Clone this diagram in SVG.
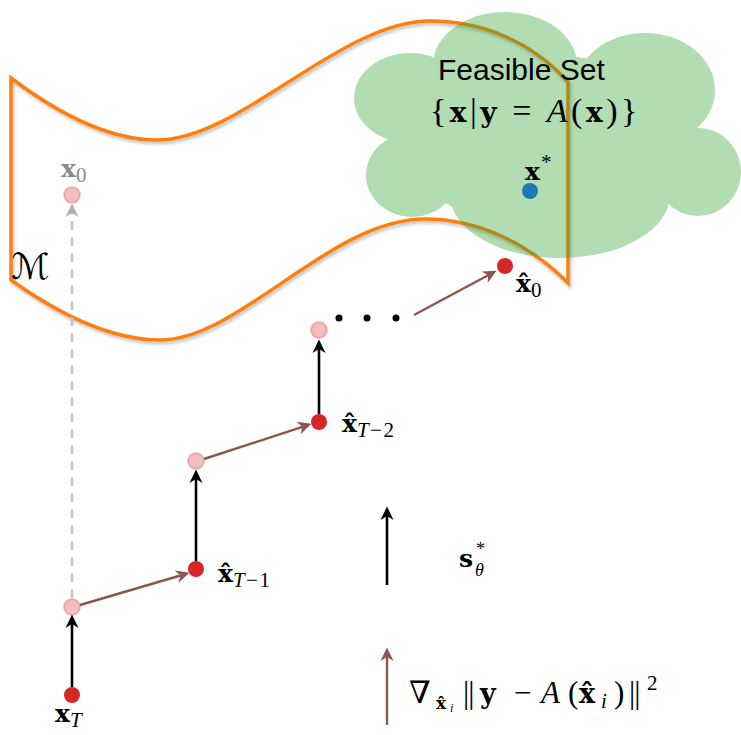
<svg xmlns="http://www.w3.org/2000/svg" width="741" height="735" viewBox="0 0 741 735">
<defs>
<style>
.m{font-family:"Liberation Serif","DejaVu Serif",serif;fill:#000}
.b{font-family:"DejaVu Serif","Liberation Serif",serif;font-weight:bold}
.i{font-style:italic}
.sub{font-size:21px}
.sans{font-family:"Liberation Sans",Arial,sans-serif}
.red{fill:#d62728}
.pink{fill:#d62728;fill-opacity:0.3;stroke:#d62728;stroke-opacity:0.25;stroke-width:2}
.blk{stroke:#000;stroke-width:2.6;fill:none}
.brn{stroke:#8c564b;stroke-width:2.4;fill:none}
</style>
<filter id="sh" x="-5%" y="-5%" width="110%" height="115%">
<feDropShadow dx="1.5" dy="2.5" stdDeviation="1.5" flood-color="#000" flood-opacity="0.25"/>
</filter>
<marker id="ak" viewBox="-5 -7 15 14" refX="0" refY="0" markerWidth="15" markerHeight="14" markerUnits="userSpaceOnUse" orient="auto">
<path d="M9.5,0 L-4,-6.5 L0,0 L-4,6.5 Z" fill="#000"/>
</marker>
<marker id="ab" viewBox="-5 -7 15 14" refX="0" refY="0" markerWidth="15" markerHeight="14" markerUnits="userSpaceOnUse" orient="auto">
<path d="M9.5,0 L-4,-6.5 L0,0 L-4,6.5 Z" fill="#8c564b"/>
</marker>
<marker id="ag" viewBox="-5 -7 15 14" refX="0" refY="0" markerWidth="15" markerHeight="14" markerUnits="userSpaceOnUse" orient="auto">
<path d="M9.5,0 L-4,-6.5 L0,0 L-4,6.5 Z" fill="#b0b0b0"/>
</marker>
</defs>
<rect width="741" height="735" fill="#fff"/>

<g id="manifold">
<path d="M11,78 C60,115 110,140 157,140 C240,140 340,21 430,21 C480,21 530,40 568,82 L568,283 C530,245 480,219 425,219 C330,219 240,340 160,340 C110,340 60,315 11,280 Z" fill="none" stroke="#ff7f0e" stroke-width="3.5" stroke-linejoin="miter" filter="url(#sh)"/>
<text x="11" y="279" font-family="DejaVu Sans,sans-serif" font-style="italic" font-size="36">ℳ</text>
</g>

<g id="feasible-set">
<g opacity="0.36" fill="#2ca02c">
<ellipse cx="505" cy="65" rx="72" ry="53"/>
<ellipse cx="645" cy="90" rx="70" ry="57"/>
<ellipse cx="698" cy="172" rx="43" ry="44"/>
<ellipse cx="560" cy="195" rx="110" ry="63"/>
<ellipse cx="412" cy="175" rx="46" ry="42"/>
<ellipse cx="410" cy="98" rx="56" ry="45"/>
<ellipse cx="545" cy="140" rx="150" ry="85"/>
</g>
<text class="sans" x="438" y="80" font-size="30">Feasible Set</text>
<text class="m" x="430" y="122" font-size="34" letter-spacing="3.5">{<tspan class="b" font-size="28">x</tspan>|<tspan class="b" font-size="28">y</tspan> = <tspan class="i">A</tspan>(<tspan class="b" font-size="28">x</tspan>)}</text>
</g>

<g id="connectors">
<line x1="72" y1="598" x2="72" y2="213" stroke="#c4c4c4" stroke-width="2.6" stroke-dasharray="9 7" marker-end="url(#ag)"/>
<line class="blk" x1="72" y1="687" x2="72" y2="624" marker-end="url(#ak)"/>
<line class="blk" x1="196" y1="561" x2="196" y2="479" marker-end="url(#ak)"/>
<line class="blk" x1="319" y1="414" x2="319" y2="349" marker-end="url(#ak)"/>
<line class="brn" x1="80" y1="605" x2="180.4" y2="575.5" marker-end="url(#ab)"/>
<line class="brn" x1="204" y1="459" x2="302.4" y2="426.8" marker-end="url(#ab)"/>
<line class="brn" x1="414" y1="315" x2="488.1" y2="275.3" marker-end="url(#ab)"/>
</g>

<g id="x0">
<circle class="pink" cx="72" cy="195" r="8"/>
<text class="m" x="61" y="177" font-size="25" style="fill:#8a8a8a"><tspan class="b">x</tspan><tspan class="sub" dy="5">0</tspan></text>
</g>

<g id="xstar">
<circle cx="530" cy="191" r="8" fill="#1f77b4"/>
<text class="m" x="525" y="180" font-size="25"><tspan class="b">x</tspan><tspan class="sub" dy="-11" dx="1">*</tspan></text>
</g>

<g id="xT">
<circle class="red" cx="72" cy="695" r="8"/>
<text class="m" x="55" y="722" font-size="25"><tspan class="b">x</tspan><tspan class="sub i" dy="5">T</tspan></text>
</g>

<g id="p1"><circle class="pink" cx="72" cy="607" r="8"/></g>

<g id="xT1">
<circle class="red" cx="196" cy="569" r="8"/>
<text class="m" x="218" y="582" font-size="25"><tspan class="b">x̂</tspan><tspan class="sub" dy="5" letter-spacing="1.5"><tspan class="i">T</tspan>−1</tspan></text>
</g>

<g id="p2"><circle class="pink" cx="196" cy="461" r="8"/></g>

<g id="xT2">
<circle class="red" cx="319" cy="422" r="8"/>
<text class="m" x="342" y="432" font-size="25"><tspan class="b">x̂</tspan><tspan class="sub" dy="5" letter-spacing="1.5"><tspan class="i">T</tspan>−2</tspan></text>
</g>

<g id="p3"><circle class="pink" cx="319" cy="330" r="8"/></g>

<g id="dots">
<circle cx="339" cy="318" r="3.5"/>
<circle cx="367" cy="318" r="3.5"/>
<circle cx="396" cy="318" r="3.5"/>
</g>

<g id="xhat0">
<circle class="red" cx="505" cy="266" r="8"/>
<text class="m" x="516" y="292" font-size="25"><tspan class="b">x̂</tspan><tspan class="sub" dy="5">0</tspan></text>
</g>

<g id="legend">
<line class="blk" x1="387" y1="585" x2="387" y2="516" marker-end="url(#ak)"/>
<line class="brn" x1="387" y1="725" x2="387" y2="657" marker-end="url(#ab)"/>
<text class="m b" x="459" y="567" font-size="25">s</text>
<text class="m i" x="475" y="576" font-size="18">θ</text>
<text class="m" x="476" y="555" font-size="18">*</text>
<text class="m" y="703" font-size="31"><tspan x="409">∇</tspan><tspan class="b" x="436" y="709" font-size="17">x̂</tspan><tspan class="i" x="450" y="712" font-size="12">i</tspan><tspan x="463" y="703" letter-spacing="-1">||</tspan><tspan class="b" x="480" font-size="27">y</tspan><tspan x="514">−</tspan><tspan class="i" x="541">A</tspan><tspan x="568">(</tspan><tspan class="b" x="579" font-size="27">x̂</tspan><tspan class="i" x="601" y="708" font-size="21">i</tspan><tspan x="614" y="703">)</tspan><tspan x="629" letter-spacing="-1">||</tspan><tspan x="647" y="690" font-size="21">2</tspan></text>
</g>
</svg>
